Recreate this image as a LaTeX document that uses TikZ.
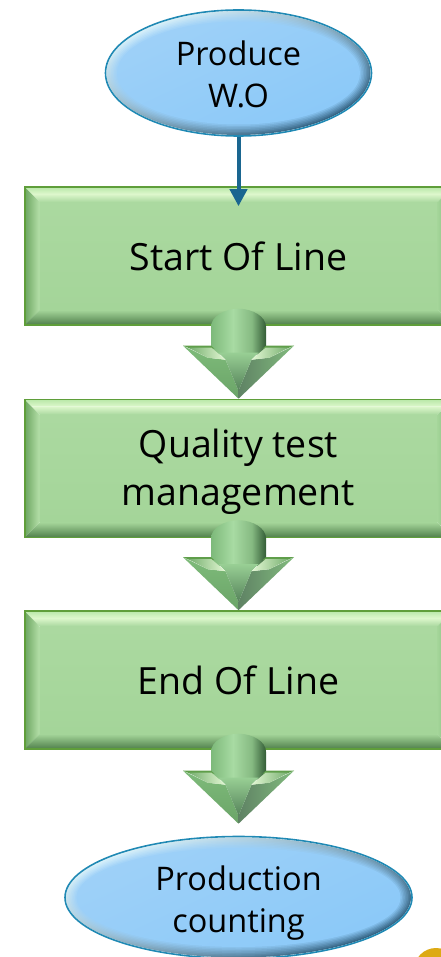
\documentclass[tikz,border=0pt]{standalone}
\usepackage{fontspec}
\setmainfont{Open Sans}
\usetikzlibrary{arrows.meta,calc,shapes.geometric}
\definecolor{gface}{HTML}{ABD9A0}
\definecolor{gfaceb}{HTML}{A4D599}
\definecolor{gedge}{HTML}{5F9E3A}
\definecolor{bface}{HTML}{9DD0F8}
\definecolor{bfaceb}{HTML}{8DCBFA}
\definecolor{bedge}{HTML}{2089B4}
\definecolor{conn}{HTML}{1A6690}
\definecolor{gtopa}{HTML}{B9E8A9}
\definecolor{gtopb}{HTML}{DDF7CC}
\definecolor{gleft}{HTML}{6BA45F}
\definecolor{gleftb}{HTML}{B5E0AA}
\definecolor{gright}{HTML}{7FB376}
\definecolor{gbot}{HTML}{4F7F4B}
\definecolor{bhigh}{HTML}{DDF5FD}
\definecolor{bdark}{HTML}{2F5F80}
\definecolor{ashafta}{HTML}{7DB97A}
\definecolor{ashaftb}{HTML}{A8DBA3}
\definecolor{ashaftm}{HTML}{86BA82}
\definecolor{ashaftc}{HTML}{335C36}
\definecolor{awing}{HTML}{5F9E4A}
\definecolor{alefta}{HTML}{7EBB7A}
\definecolor{aleftb}{HTML}{6BA468}
\definecolor{arighta}{HTML}{5F8264}
\definecolor{arightb}{HTML}{82BC7E}
\definecolor{amida}{HTML}{98CF94}
\definecolor{amidb}{HTML}{55825A}
\definecolor{afaca}{HTML}{74AE6E}
\definecolor{afacb}{HTML}{E4F8D4}
\definecolor{gold}{HTML}{DDAA14}
\pgfdeclarehorizontalshading{shaftshade}{100bp}{color(0bp)=(ashafta); color(25bp)=(ashafta); color(45bp)=(ashaftb); color(62bp)=(ashaftm); color(75bp)=(ashaftc); color(100bp)=(ashaftc)}
\newcommand\greendecor[1]{%
  \begin{scope}[shift={(#1)}]
    \shade[top color=gface,bottom color=gfaceb] (-199,-54) rectangle (199,54);
    \shade[top color=gtopa,bottom color=gtopb] (-214,-69) -- (214,-69) -- (207,-62) -- (-207,-62) -- cycle;
    \shade[top color=gtopb,bottom color=gface] (-207,-62) -- (207,-62) -- (199,-54) -- (-199,-54) -- cycle;
    \shade[left color=gleft,right color=gleftb] (-214,-69) -- (-199,-54) -- (-199,54) -- (-214,69) -- cycle;
    \shade[left color=gfaceb,right color=gright] (214,-69) -- (199,-54) -- (199,54) -- (214,69) -- cycle;
    \shade[top color=gfaceb,bottom color=gbot] (-199,54) -- (199,54) -- (214,69) -- (-214,69) -- cycle;
  \end{scope}}
\newcommand\bluedecor[3]{%
  \begin{scope}[shift={(#1)}]
    \foreach \i in {0,...,7}{
      \pgfmathsetmacro{\m}{100-\i*14}
      \pgfmathsetmacro{\d}{1+\i*1.5}
      \shade[top color=bhigh!\m!bface,bottom color=bdark!\m!bfaceb,shading angle=25]
        (0,0) ellipse ({#2-\d} and {#3-\d});
    }
  \end{scope}}
\tikzset{
  x=1pt,y=-1pt,
  greenbox/.style={rectangle,draw=gedge,line width=1.6pt,inner sep=0pt,
    minimum width=427pt,minimum height=138pt,align=center,
    font=\fontsize{37.5}{48}\selectfont},
  blueell/.style n args={2}{ellipse,inner sep=0pt,draw=bedge,line width=1.6pt,
    minimum width=2*#1 pt,minimum height=2*#2 pt,align=center,
    font=\fontsize{32.5}{42}\selectfont},
  thinarrow/.style={draw=conn,line width=4pt,-{Triangle[width=17pt,length=17pt,fill=conn]}},
  blockarrow/.pic={
    \shade[shading=shaftshade]
      (-27.5,-44) -- (-27.5,-72) .. controls (-27.5,-82) and (-14,-90) .. (0,-90)
      .. controls (14,-90) and (27.5,-82) .. (27.5,-72) -- (27.5,-44) -- cycle;
    \fill[awing] (-55.5,-53) -- (-27.5,-53) -- (-24,-50) -- (-48,-50) -- cycle;
    \fill[awing] (55.5,-53) -- (27.5,-53) -- (24,-50) -- (48,-50) -- cycle;
    \shade[top color=alefta,bottom color=aleftb]
      (-55.5,-53) -- (-31,-41) -- (-13,-39) -- (0,-8) -- (0,0) -- cycle;
    \shade[left color=arighta,right color=arightb]
      (55.5,-53) -- (31,-41) -- (13,-39) -- (0,-8) -- (0,0) -- cycle;
    \shade[top color=amida,bottom color=amidb] (-20,-46) -- (20,-46) -- (13,-39) -- (0,-8) -- (-13,-39) -- cycle;
    \shade[left color=afaca,right color=afacb] (-50,-51) -- (-27,-51) -- (-13,-39) -- (-31,-41) -- cycle;
    \shade[left color=afacb,right color=afaca] (50,-51) -- (27,-51) -- (13,-39) -- (31,-41) -- cycle;
  }
}
\begin{document}
\begin{tikzpicture}
\useasboundingbox (0,0) rectangle (441,957);
\clip (0,0) rectangle (441,957);
\greendecor{238.5,256}
\greendecor{238.5,468.5}
\greendecor{238.5,680}
\bluedecor{238.5,73}{133}{63}
\bluedecor{238.5,897.5}{173.5}{61}
\node[greenbox] (sol) at (238.5,256) {Start Of Line};
\node[greenbox] (qtm) at (238.5,468.5) {\rule{0pt}{36pt}Quality test\\management};
\node[greenbox] (eol) at (238.5,680) {End Of Line};
\node[blueell={133}{63}] (wo) at (238.5,73) {\rule{0pt}{27pt}Produce\\W.O};
\node[blueell={173.5}{61}] (pc) at (238.5,897.5) {\rule{0pt}{35pt}Production\\counting};
\fill[gold] (436,970) circle (22);
\draw[thinarrow] (wo.south) -- ($(sol.north)+(0,20)$);
\pic at (qtm.north) {blockarrow};
\pic at (eol.north) {blockarrow};
\pic at ($(pc.north)+(0,-12)$) {blockarrow};
\end{tikzpicture}
\end{document}
